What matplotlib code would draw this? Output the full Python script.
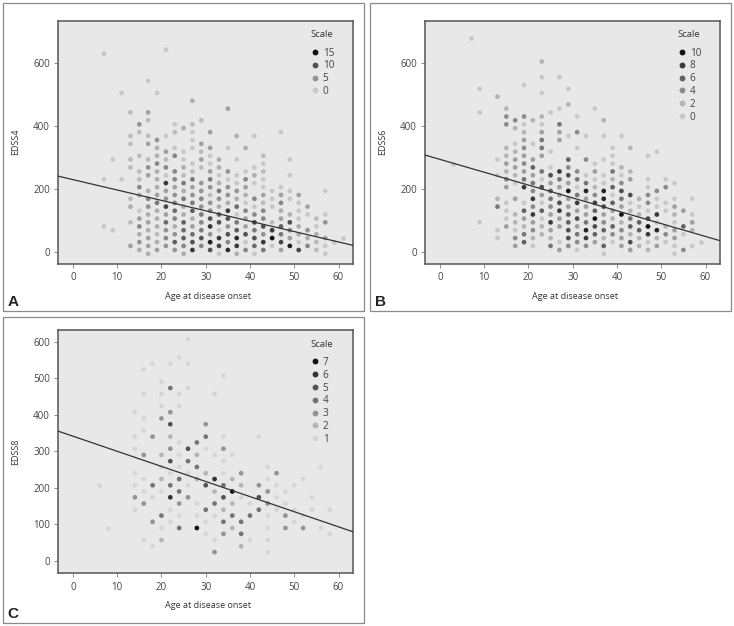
import matplotlib
matplotlib.use('Agg')
import matplotlib.pyplot as plt
from matplotlib.lines import Line2D
from matplotlib.patches import Rectangle

plt.rcParams['font.family'] = ['Open Sans', 'DejaVu Sans']

# each key is an age column, y = EDSS time of the hexbin cell, n = shade level (count)
a_y = {
    7: [631, 231, 81], 9: [294, 69], 11: [506, 231],
    13: [444, 369, 344, 294, 269, 169, 144, 94, 19],
    15: [406, 381, 306, 256, 231, 206, 181, 131, 106, 81, 56, 31, 6],
    17: [544, 444, 419, 369, 344, 294, 269, 244, 194, 169, 144, 119, 94, 69, 44, 19, -6],
    19: [506, 356, 331, 306, 281, 256, 231, 206, 181, 156, 131, 106, 81, 56, 31, 6],
    21: [644, 369, 319, 294, 269, 244, 219, 194, 169, 144, 119, 94, 69, 44, 19],
    23: [406, 381, 331, 306, 256, 231, 206, 181, 156, 131, 106, 81, 56, 31, 6],
    25: [394, 319, 294, 269, 244, 219, 194, 169, 144, 119, 94, 69, 44, 19, -6],
    27: [481, 406, 381, 356, 331, 281, 256, 231, 206, 181, 156, 131, 106, 81, 56, 31, 6],
    29: [419, 344, 319, 294, 269, 219, 194, 169, 144, 119, 94, 69, 44, 19],
    31: [381, 331, 306, 281, 256, 231, 206, 181, 156, 131, 106, 81, 56, 31, 6],
    33: [294, 269, 244, 219, 194, 169, 144, 119, 94, 69, 44, 19, -6],
    35: [456, 331, 256, 231, 206, 181, 156, 131, 106, 81, 56, 31, 6],
    37: [369, 294, 244, 219, 194, 169, 144, 119, 94, 69, 44, 19, -6],
    39: [331, 256, 231, 206, 181, 156, 131, 106, 81, 56, 31, 6],
    41: [369, 269, 244, 219, 169, 144, 119, 94, 69, 44, 19, -6],
    43: [306, 281, 256, 231, 206, 181, 156, 131, 106, 81, 56, 31, 6],
    45: [194, 169, 144, 94, 69, 44, 19],
    47: [381, 206, 181, 156, 131, 106, 81, 56, 31, 6],
    49: [294, 244, 194, 169, 119, 94, 69, 44, 19],
    51: [181, 156, 131, 106, 81, 56, 31, 6],
    53: [144, 119, 69, 44, 19],
    55: [106, 81, 56, 31, 6],
    57: [194, 119, 94, 44, 19, -6],
    59: [31], 61: [44],
}
a_n = {
    7: [1, 1, 1], 9: [1, 1], 11: [1, 1],
    13: [2, 2, 2, 2, 2, 2, 3, 2, 4],
    15: [5, 2, 2, 2, 2, 6, 3, 1, 4, 6, 3, 5, 3],
    17: [1, 4, 2, 2, 4, 2, 5, 4, 3, 6, 5, 3, 4, 3, 4, 4, 3],
    19: [1, 5, 3, 3, 6, 3, 3, 3, 4, 7, 3, 3, 3, 2, 3, 4],
    21: [1, 1, 4, 2, 6, 1, 12, 4, 5, 11, 4, 8, 5, 6, 5],
    23: [1, 2, 1, 6, 6, 6, 4, 5, 6, 8, 6, 3, 5, 9, 5],
    25: [3, 1, 1, 3, 2, 7, 3, 7, 3, 3, 9, 8, 9, 6, 3],
    27: [3, 2, 1, 1, 1, 1, 2, 7, 4, 5, 7, 9, 3, 4, 8, 10, 12],
    29: [2, 4, 2, 4, 2, 5, 5, 6, 5, 7, 6, 7, 10, 6],
    31: [4, 4, 1, 1, 4, 7, 5, 2, 5, 6, 10, 12, 5, 14, 10],
    33: [3, 3, 1, 3, 7, 5, 3, 9, 10, 1, 12, 11, 1],
    35: [4, 1, 5, 1, 5, 5, 3, 12, 10, 5, 10, 6, 13],
    37: [3, 1, 1, 1, 5, 3, 8, 1, 7, 9, 13, 12, 3],
    39: [3, 1, 6, 4, 3, 1, 6, 4, 4, 10, 1, 6],
    41: [1, 1, 3, 1, 6, 1, 6, 11, 7, 10, 8, 1],
    43: [2, 1, 2, 1, 1, 4, 2, 6, 6, 10, 5, 12, 7],
    45: [1, 1, 1, 2, 12, 15, 1],
    47: [1, 1, 4, 6, 3, 4, 9, 7, 11, 4],
    49: [1, 1, 1, 1, 3, 10, 6, 4, 14],
    51: [4, 1, 1, 1, 3, 3, 1, 11],
    53: [4, 1, 5, 3, 6],
    55: [2, 1, 3, 2, 2],
    57: [1, 1, 5, 4, 1, 1],
    59: [1], 61: [1],
}
b_y = {
    3: [281], 7: [681], 9: [519, 444, 94],
    13: [494, 294, 244, 169, 144, 69, 44],
    15: [456, 431, 406, 331, 306, 281, 256, 231, 206, 156, 131, 106, 81],
    17: [419, 394, 344, 319, 294, 269, 244, 219, 169, 119, 94, 69, 44, 19],
    19: [531, 431, 406, 381, 356, 331, 306, 281, 256, 231, 206, 156, 131, 106, 81, 56, 31],
    21: [419, 344, 294, 269, 244, 219, 194, 169, 144, 119, 94, 69, 44, 19],
    23: [606, 556, 506, 431, 406, 381, 356, 331, 306, 256, 231, 206, 181, 156, 131, 106, 81, 56],
    25: [444, 319, 269, 244, 219, 194, 169, 144, 119, 94, 69, 44, 19],
    27: [556, 456, 406, 381, 356, 256, 231, 206, 181, 156, 131, 106, 81, 31, 6],
    29: [519, 469, 369, 294, 269, 244, 219, 194, 169, 144, 119, 94, 69, 44, 19],
    31: [431, 381, 331, 256, 231, 206, 181, 156, 131, 106, 81, 56, 31, 6],
    33: [369, 294, 244, 219, 194, 169, 144, 119, 94, 69, 44, 19],
    35: [456, 281, 256, 231, 206, 181, 156, 131, 106, 81, 56, 31],
    37: [419, 369, 294, 244, 219, 194, 169, 144, 119, 94, 69, 44, 19, -6],
    39: [331, 306, 281, 256, 231, 206, 181, 156, 131, 106, 81, 56, 31],
    41: [369, 269, 244, 219, 194, 169, 144, 119, 94, 69, 44, 19],
    43: [331, 256, 231, 181, 156, 131, 106, 81, 56, 31, 6],
    45: [169, 144, 119, 94, 69, 44, 19],
    47: [306, 231, 206, 181, 156, 131, 106, 81, 56, 31, 6],
    49: [319, 194, 169, 144, 119, 94, 69, 44, 19],
    51: [231, 206, 156, 131, 81, 56, 31],
    53: [219, 169, 144, 119, 94, 69, 44, 19, -6],
    55: [131, 81, 56, 6],
    57: [169, 119, 94, 69, 19],
    59: [31],
}
b_n = {
    3: [1], 7: [1], 9: [1, 1, 1],
    13: [2, 1, 1, 2, 5, 1, 1],
    15: [2, 4, 4, 2, 2, 3, 2, 4, 3, 1, 1, 1, 3],
    17: [4, 2, 1, 2, 3, 3, 2, 1, 3, 2, 2, 1, 4, 3],
    19: [1, 4, 1, 2, 3, 4, 3, 4, 3, 5, 8, 1, 6, 3, 2, 5, 6],
    21: [2, 1, 3, 6, 3, 5, 4, 8, 4, 8, 3, 4, 2, 1],
    23: [2, 1, 1, 2, 1, 3, 5, 5, 3, 5, 1, 7, 3, 1, 6, 1, 2, 2],
    25: [1, 1, 1, 7, 3, 6, 5, 4, 3, 8, 3, 2, 5],
    27: [1, 1, 5, 3, 3, 8, 5, 3, 3, 7, 8, 3, 3, 1, 3],
    29: [1, 2, 1, 6, 4, 7, 3, 10, 3, 3, 6, 6, 7, 7, 4],
    31: [1, 4, 1, 4, 5, 1, 5, 8, 3, 7, 3, 5, 4, 1],
    33: [1, 4, 1, 5, 9, 3, 3, 3, 5, 9, 8, 4],
    35: [1, 1, 3, 1, 2, 4, 8, 6, 10, 7, 6, 3],
    37: [2, 1, 1, 1, 1, 9, 9, 7, 3, 4, 6, 2, 6, 1],
    39: [1, 1, 1, 5, 2, 6, 1, 6, 3, 2, 6, 4, 1],
    41: [1, 2, 1, 4, 7, 5, 3, 10, 2, 4, 3, 3],
    43: [2, 2, 3, 7, 1, 2, 5, 6, 2, 7, 3],
    45: [2, 1, 2, 6, 6, 2, 2],
    47: [1, 1, 1, 4, 4, 1, 7, 10, 8, 1, 2],
    49: [1, 4, 1, 1, 8, 1, 9, 2, 3],
    51: [1, 4, 1, 1, 2, 4, 1],
    53: [1, 1, 3, 2, 1, 3, 3, 1, 1],
    55: [3, 6, 1, 4],
    57: [1, 1, 3, 2, 1],
    59: [1],
}
c_y = {
    6: [207], 8: [90],
    14: [407, 340, 307, 240, 207, 174, 140],
    16: [524, 457, 390, 357, 290, 224, 190, 157, 57],
    18: [540, 340, 207, 174, 107, 40],
    20: [490, 457, 424, 390, 290, 257, 224, 190, 124, 90, 57],
    22: [540, 473, 407, 374, 340, 307, 273, 240, 207, 174, 140, 107],
    24: [557, 457, 424, 324, 290, 257, 224, 190, 157, 124, 90],
    26: [607, 540, 473, 307, 273, 240, 207, 174],
    28: [324, 290, 257, 224, 157, 124, 90],
    30: [374, 340, 307, 240, 207, 140, 107, 74],
    32: [457, 290, 224, 190, 157, 124, 57, 24],
    34: [507, 340, 307, 273, 240, 207, 174, 140, 107, 74],
    36: [290, 224, 190, 157, 124, 90],
    38: [240, 207, 174, 107, 74, 40],
    40: [157, 124, 57],
    42: [340, 207, 174, 140],
    44: [257, 224, 190, 157, 124, 90, 57, 24],
    46: [240, 207, 174, 140],
    48: [190, 157, 124, 90],
    50: [207, 140, 107],
    52: [224, 124, 90],
    54: [174, 140],
    56: [257, 90],
    58: [140, 74],
}
c_n = {
    6: [1], 8: [1],
    14: [1, 1, 1, 1, 1, 3, 1],
    16: [1, 1, 1, 1, 3, 1, 1, 3, 1],
    18: [1, 3, 4, 1, 3, 1],
    20: [1, 1, 1, 3, 2, 1, 2, 1, 4, 1, 2],
    22: [1, 4, 3, 5, 2, 3, 5, 1, 4, 6, 1, 1],
    24: [1, 1, 1, 1, 1, 1, 4, 4, 3, 1, 4],
    26: [1, 1, 1, 5, 4, 1, 1, 3],
    28: [4, 2, 4, 2, 1, 1, 7],
    30: [3, 4, 1, 2, 5, 4, 1, 1],
    32: [1, 1, 6, 2, 4, 1, 1, 3],
    34: [1, 1, 3, 1, 1, 4, 5, 2, 4, 3],
    36: [1, 2, 7, 2, 4, 2],
    38: [3, 2, 1, 4, 4, 2],
    40: [1, 4, 1],
    42: [1, 3, 5, 4],
    44: [1, 1, 3, 3, 1, 1, 1, 1],
    46: [3, 1, 1, 1],
    48: [1, 1, 3, 3],
    50: [1, 1, 1],
    52: [1, 1, 3],
    54: [1, 1],
    56: [1, 1],
    58: [1, 1],
}

# fitted line, values at both ends of the x axis
line_x = [-3.3, 63.2]
a_line = [241, 21]
b_line = [308, 36]
c_line = [355, 80]

a_scale = [15, 10, 5, 1]
a_scale_lab = ['15', '10', '5', '0']
b_scale = [10, 8, 6, 4, 2, 1]
b_scale_lab = ['10', '8', '6', '4', '2', '0']
c_scale = [7, 6, 5, 4, 3, 2, 1]
c_scale_lab = ['7', '6', '5', '4', '3', '2', '1']

W, H = 734, 626


def shade(n, top, light):
    g = (light + (17 - light) * (n - 1) / (top - 1)) / 255
    return (g, g, g)


def panel(box, frame, letter, ys, ns, fit, ylab, ylim, yticks, scale, scale_lab, light):
    # box and frame are left, top, right, bottom in pixels
    fig.add_artist(Rectangle((frame[0] / W, 1 - frame[3] / H), (frame[2] - frame[0]) / W,
                             (frame[3] - frame[1]) / H, fill=False, ec='#8a8a8a', lw=0.9,
                             transform=fig.transFigure))
    ax = fig.add_axes([box[0] / W, 1 - box[3] / H, (box[2] - box[0]) / W, (box[3] - box[1]) / H])
    ax.set_facecolor('#e8e8e8')
    top = max(scale)
    for col in ys:
        cols = [shade(n, top, light) for n in ns[col]]
        ax.scatter([col] * len(ys[col]), ys[col], s=11.5, c=cols, linewidths=0, zorder=2)
    ax.plot(line_x, fit, color='#333333', lw=0.9, zorder=3)
    ax.set_xlim(line_x)
    ax.set_ylim(ylim)
    ax.set_xticks([0, 10, 20, 30, 40, 50, 60])
    ax.set_yticks(yticks)
    ax.tick_params(labelsize=7.0, colors='#444444', color='#777777', length=3, width=0.6, pad=3)
    ax.set_xlabel('Age at disease onset', fontsize=6.5, color='#333333', labelpad=6.3, x=0.507)
    ax.set_ylabel(ylab, fontsize=6.5, color='#333333', labelpad=9.5)
    for s in ax.spines.values():
        s.set_color('#555555')
        s.set_linewidth(1.1)
    handles = [Line2D([], [], ls='', marker='o', ms=4.2, mew=0, color=shade(n, top, light)) for n in scale]
    leg = ax.legend(handles, scale_lab, title='Scale', loc='upper left', bbox_to_anchor=(0.846, 0.973),
                    frameon=False, fontsize=7.2, title_fontsize=6.8, labelspacing=0.18,
                    handlelength=1.0, handletextpad=0.25, borderpad=0.3, borderaxespad=0,
                    alignment='left')
    leg._legend_box.sep = 6
    for t in leg.get_texts():
        t.set_color('#444444')
    leg.get_title().set_color('#333333')
    fig.text((frame[0] + 5) / W, 1 - (frame[3] - 5) / H, letter, fontsize=11, fontweight='bold',
             family=['Liberation Sans', 'DejaVu Sans'], color='#222222', ha='left', va='baseline')
    return ax


fig = plt.figure(figsize=(W / 100, H / 100), dpi=100)
panel((58.3, 20.7, 352.7, 263.5), (2.5, 2.5, 364, 311), 'A', a_y, a_n, a_line, 'EDSS4',
      (-37, 736), [0, 200, 400, 600], a_scale, a_scale_lab, 200)
panel((425.3, 20.7, 719.7, 263.5), (369.5, 2.5, 731, 311), 'B', b_y, b_n, b_line, 'EDSS6',
      (-37, 736), [0, 200, 400, 600], b_scale, b_scale_lab, 200)
panel((58.3, 330, 352.7, 573.3), (2.5, 316.7, 364, 623), 'C', c_y, c_n, c_line, 'EDSS8',
      (-34, 632), [0, 100, 200, 300, 400, 500, 600], c_scale, c_scale_lab, 214)

fig.savefig('out.png', dpi=100)
